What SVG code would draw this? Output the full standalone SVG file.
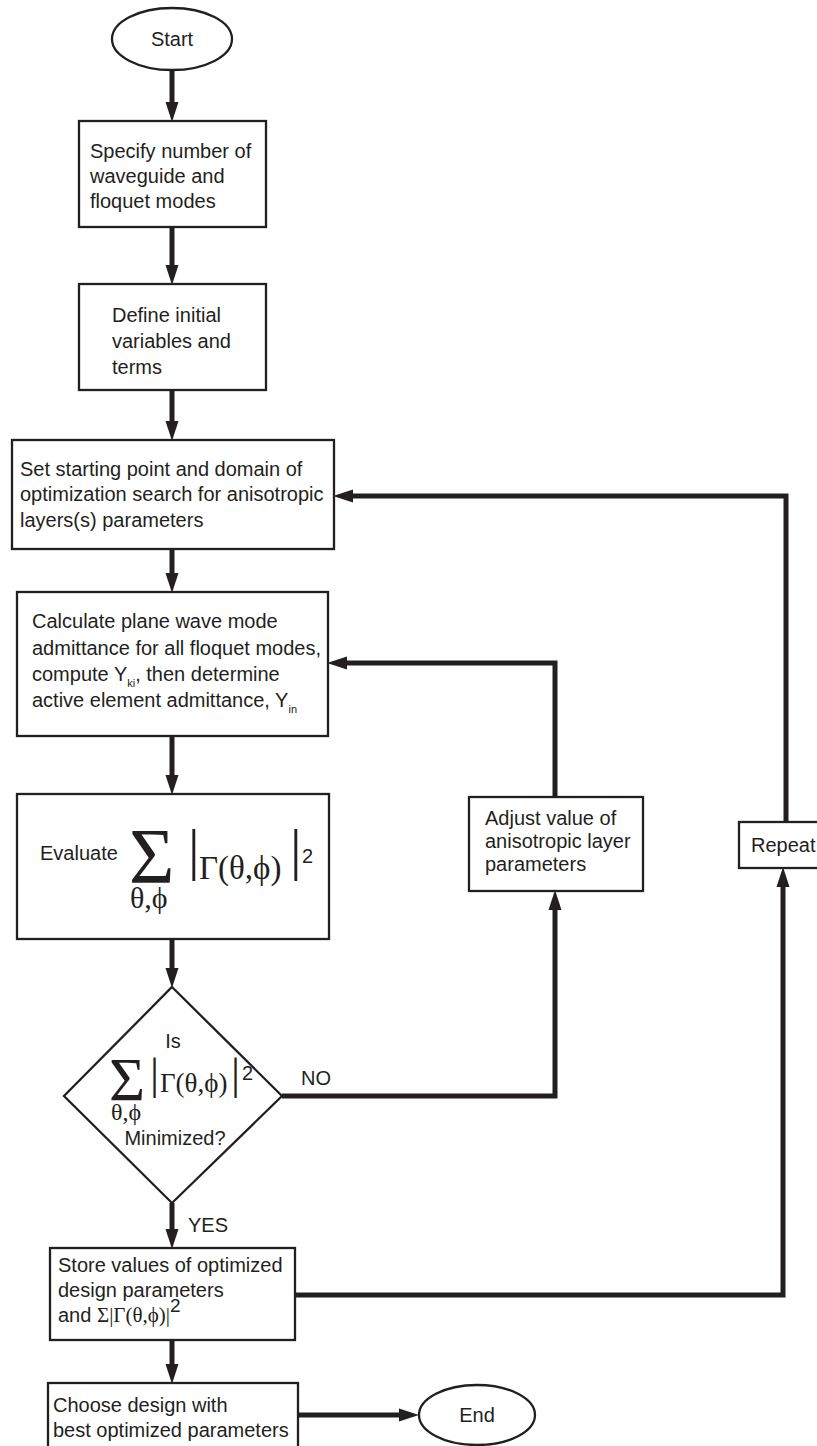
<svg xmlns="http://www.w3.org/2000/svg" width="817" height="1446" viewBox="0 0 817 1446">
<style>
.bg{fill:#ffffff}
.box{fill:#ffffff;stroke:#231f20;stroke-width:2.3}
.t{font-family:"Liberation Sans",Arial,sans-serif;font-size:20px;fill:#231f20}
.m{font-family:"Liberation Serif","Times New Roman",serif;fill:#231f20}
.c{fill:none;stroke:#231f20;stroke-width:5;stroke-linejoin:miter}
</style>
<defs>
<marker id="ah" markerUnits="userSpaceOnUse" markerWidth="20" markerHeight="14" refX="9" refY="6.5" orient="auto" viewBox="0 0 20 13">
<path d="M0,0 L20,6.5 L0,13 z" fill="#231f20"/>
</marker>
</defs>
<rect class="bg" x="0" y="0" width="817" height="1446"/>

<g id="connectors">
<line class="c" x1="172" y1="70" x2="172" y2="111" marker-end="url(#ah)"/>
<line class="c" x1="172" y1="227" x2="172" y2="274" marker-end="url(#ah)"/>
<line class="c" x1="172" y1="390" x2="172" y2="430" marker-end="url(#ah)"/>
<line class="c" x1="172" y1="549" x2="172" y2="582" marker-end="url(#ah)"/>
<line class="c" x1="172" y1="736" x2="172" y2="784" marker-end="url(#ah)"/>
<line class="c" x1="172" y1="939" x2="172" y2="977" marker-end="url(#ah)"/>
<line class="c" x1="172" y1="1203" x2="172" y2="1238" marker-end="url(#ah)"/>
<line class="c" x1="172" y1="1340" x2="172" y2="1373" marker-end="url(#ah)"/>
<line class="c" x1="298" y1="1415" x2="408" y2="1415" marker-end="url(#ah)"/>
<path class="c" d="M282,1096 H555 V901" marker-end="url(#ah)"/>
<path class="c" d="M555,797 V663 H338" marker-end="url(#ah)"/>
<path class="c" d="M295,1295 H783 V878" marker-end="url(#ah)"/>
<path class="c" d="M786,822 V496 H344" marker-end="url(#ah)"/>
<text class="t" x="301" y="1085" font-size="21">NO</text>
<text class="t" x="188" y="1232">YES</text>
</g>

<g id="start">
<ellipse class="box" cx="172" cy="39" rx="60" ry="31"/>
<text class="t" x="172" y="46" text-anchor="middle">Start</text>
</g>

<g id="specify">
<rect class="box" x="79" y="121" width="187" height="106"/>
<text class="t" x="90" y="158">Specify number of</text>
<text class="t" x="90" y="183">waveguide and</text>
<text class="t" x="90" y="208">floquet modes</text>
</g>

<g id="define">
<rect class="box" x="79" y="284" width="187" height="106"/>
<text class="t" x="112" y="322">Define initial</text>
<text class="t" x="112" y="348">variables and</text>
<text class="t" x="112" y="374">terms</text>
</g>

<g id="setstart">
<rect class="box" x="12" y="440" width="322" height="109"/>
<text class="t" x="20" y="476">Set starting point and domain of</text>
<text class="t" x="20" y="501">optimization search for anisotropic</text>
<text class="t" x="20" y="527">layers(s) parameters</text>
</g>

<g id="calculate">
<rect class="box" x="17" y="592" width="311" height="144"/>
<text class="t" x="32" y="628">Calculate plane wave mode</text>
<text class="t" x="32" y="655">admittance for all floquet modes,</text>
<text class="t" x="32" y="681">compute Y<tspan font-size="11" dy="6">ki</tspan><tspan dy="-6">, then determine</tspan></text>
<text class="t" x="32" y="707">active element admittance, Y<tspan font-size="11" dy="6">in</tspan></text>
</g>

<g id="evaluate">
<rect class="box" x="17" y="794" width="312" height="145"/>
<text class="t" x="40" y="860" font-size="18">Evaluate</text>
<text class="m" x="129" y="882" font-size="78">Σ</text>
<text class="m" x="130" y="908" font-size="30">θ,ϕ</text>
<text class="m" x="188" y="869" font-size="58">|</text>
<text class="m" x="199" y="879" font-size="33">Γ(θ,ϕ)</text>
<text class="m" x="290" y="869" font-size="58">|</text>
<text class="t" x="302" y="863" font-size="16">2</text>
</g>

<g id="decision">
<polygon class="box" points="172,987 282,1096 172,1203 64,1096"/>
<text class="t" x="173" y="1048" font-size="17" text-anchor="middle">Is</text>
<text class="m" x="109" y="1100" font-size="62">Σ</text>
<text class="m" x="111" y="1120" font-size="24">θ,ϕ</text>
<text class="m" x="150" y="1089" font-size="45">|</text>
<text class="m" x="160" y="1092" font-size="27">Γ(θ,ϕ)</text>
<text class="m" x="231" y="1089" font-size="45">|</text>
<text class="t" x="242" y="1080" font-size="12">2</text>
<text class="t" x="175" y="1145" font-size="19" text-anchor="middle">Minimized?</text>
</g>

<g id="adjust">
<rect class="box" x="469" y="797" width="174" height="94"/>
<text class="t" x="485" y="825">Adjust value of</text>
<text class="t" x="485" y="848">anisotropic layer</text>
<text class="t" x="485" y="871">parameters</text>
</g>

<g id="repeat">
<rect class="box" x="739" y="822" width="82" height="46"/>
<text class="t" x="751" y="852">Repeat</text>
</g>

<g id="store">
<rect class="box" x="50" y="1248" width="245" height="92"/>
<text class="t" x="58" y="1272">Store values of optimized</text>
<text class="t" x="58" y="1297">design parameters</text>
<text class="t" x="58" y="1322">and <tspan class="m" font-size="21">Σ|Γ(θ,ϕ)|</tspan><tspan dy="-10" font-size="19">2</tspan></text>
</g>

<g id="choose">
<rect class="box" x="48" y="1383" width="250" height="70"/>
<text class="t" x="53" y="1412">Choose design with</text>
<text class="t" x="53" y="1437">best optimized parameters</text>
</g>

<g id="end">
<ellipse class="box" cx="477" cy="1415" rx="58" ry="30"/>
<text class="t" x="477" y="1422" text-anchor="middle" font-size="19">End</text>
</g>
</svg>
